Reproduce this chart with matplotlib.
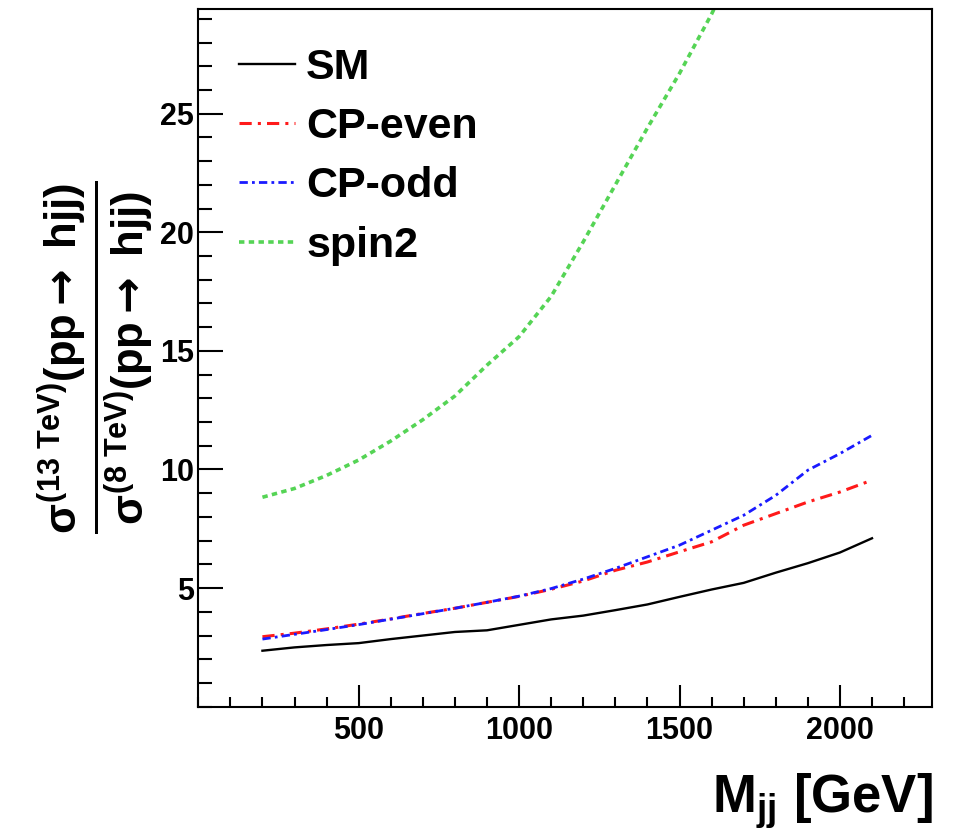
import numpy as np
import matplotlib
matplotlib.use("Agg")
import matplotlib.pyplot as plt
from matplotlib.ticker import MultipleLocator, FixedLocator

plt.rcParams['font.family'] = ['Liberation Sans', 'DejaVu Sans']
plt.rcParams['font.weight'] = 'bold'
plt.rcParams['mathtext.fontset'] = 'custom'
plt.rcParams['mathtext.rm'] = 'Liberation Sans:bold'
plt.rcParams['mathtext.it'] = 'Liberation Sans:bold'
plt.rcParams['mathtext.bf'] = 'Liberation Sans:bold'
plt.rcParams['mathtext.sf'] = 'DejaVu Sans'

# M_jj in GeV
mjj = [200, 300, 400, 500, 600, 700, 800, 900, 1000, 1100, 1200,
       1300, 1400, 1500, 1600, 1700, 1800, 1900, 2000, 2100]

# ratio sigma(13 TeV) / sigma(8 TeV)
sm = [2.36, 2.50, 2.60, 2.68, 2.85, 3.00, 3.15, 3.22, 3.45, 3.68, 3.84,
      4.07, 4.31, 4.63, 4.94, 5.22, 5.65, 6.05, 6.50, 7.10]
cp_even = [2.95, 3.10, 3.28, 3.48, 3.70, 3.93, 4.15, 4.40, 4.65, 4.95, 5.30,
           5.75, 6.10, 6.53, 6.95, 7.65, 8.14, 8.63, 9.05, 9.55]
cp_odd = [2.85, 3.05, 3.25, 3.46, 3.69, 3.92, 4.15, 4.40, 4.66, 4.98, 5.38,
          5.83, 6.32, 6.81, 7.44, 8.07, 8.91, 9.97, 10.67, 11.44]
spin2 = [8.83, 9.20, 9.75, 10.40, 11.20, 12.10, 13.10, 14.40, 15.60, 17.30, 19.60,
         22.00, 24.40, 26.70, 29.20, 32.00, 35.00, 38.50, 42.00, 46.00]

x_major = [500, 1000, 1500, 2000]
y_major = [5, 10, 15, 20, 25]

fig = plt.figure(figsize=(9.63, 8.4), dpi=100)
ax = fig.add_axes([0.2059, 0.1587, 0.7619, 0.8302])

ax.plot(mjj, sm, color="black", lw=1.7, label="SM")
ax.plot(mjj, cp_even, color="#ff1a1a", lw=2.2, ls=(0, (4, 2, 1, 2)), label="CP-even")
ax.plot(mjj, cp_odd, color="#1a1aff", lw=2.0, ls=(0, (3, 1.5, 1, 1.5)), label="CP-odd")
ax.plot(mjj, spin2, color="#55d455", lw=2.6, ls=(0, (1.5, 1.2)), label="spin2")

ax.set_xlim(0, 2287)
ax.set_ylim(0, 29.4)

ax.xaxis.set_major_locator(FixedLocator(x_major))
ax.xaxis.set_minor_locator(MultipleLocator(100))
ax.yaxis.set_major_locator(FixedLocator(y_major))
ax.yaxis.set_minor_locator(MultipleLocator(1))

ax.tick_params(axis="x", which="major", direction="in", length=15.8, width=1.5,
               labelsize=22, pad=7)
ax.tick_params(axis="x", which="minor", direction="in", length=7.2, width=1.5)
ax.tick_params(axis="y", which="major", direction="in", length=18, width=1.5,
               labelsize=22, pad=3)
ax.tick_params(axis="y", which="minor", direction="in", length=10, width=1.5)
for s in ax.spines.values():
    s.set_linewidth(1.5)

leg = ax.legend(loc="upper left", bbox_to_anchor=(0.056, 0.945), frameon=False,
                fontsize=31, handlelength=1.3, handletextpad=0.25,
                labelspacing=0.45, borderpad=0, borderaxespad=0)

ylab = (r'$\frac{\sigma^{(13\ TeV)}(pp\mathsf{\rightarrow}\ hjj)}'
        r'{\sigma^{(8\ TeV)}(pp\mathsf{\rightarrow}\ hjj)}$')
fig.text(95 / 963, 1 - 357 / 840, ylab, rotation=90, ha="center", va="center",
         fontsize=45)
fig.text(933 / 963, 1 - 813 / 840, r'M$_{jj}$ [GeV]', ha="right", va="baseline",
         fontsize=38, fontweight="bold")

fig.savefig("out.png", dpi=100)
